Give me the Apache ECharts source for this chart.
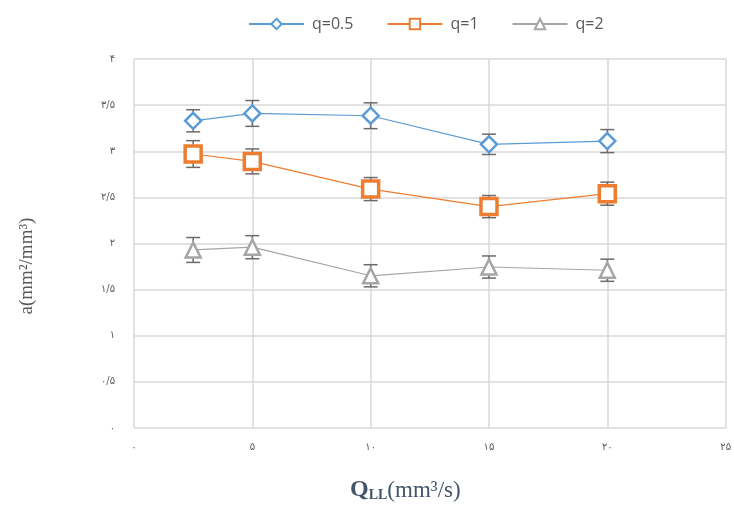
<!DOCTYPE html>
<html>
<head>
<meta charset="utf-8">
<script src="https://cdn.jsdelivr.net/npm/echarts@6/dist/echarts.min.js"></script>
<style>
  html, body { margin: 0; padding: 0; background: #fff; }
  #chart { width: 734px; height: 505px; }
</style>
</head>
<body>
<div id="chart"></div>
<script>
// Liquid flow rate Q_LL (mm^3/s)
const flowRates = [2.5, 5, 10, 15, 20];

// Interfacial area a (mm^2/mm^3) for each q, with error half-widths
const seriesNames = ['q=0.5', 'q=1', 'q=2'];
const areaQ05 = [3.33, 3.41, 3.385, 3.075, 3.11];
const errQ05  = [0.12, 0.14, 0.14, 0.11, 0.125];
const areaQ1  = [2.97, 2.89, 2.59, 2.40, 2.54];
const errQ1   = [0.145, 0.135, 0.125, 0.12, 0.125];
const areaQ2  = [1.93, 1.96, 1.65, 1.745, 1.71];
const errQ2   = [0.135, 0.125, 0.12, 0.12, 0.12];

// Axis tick labels in Persian digits
const xTickLabels = ['۰', '۵', '۱۰', '۱۵', '۲۰', '۲۵'];
const yTickLabels = ['۰', '۰/۵', '۱', '۱/۵', '۲', '۲/۵', '۳', '۳/۵', '۴'];

const colors = ['#5B9BD5', '#ED7D31', '#A5A5A5'];
const symbols = ['diamond', 'rect', 'triangle'];
const symbolSizes = [16, 16, 15];
const borderWidths = [2.5, 3.5, 2.5];
const values = [areaQ05, areaQ1, areaQ2];
const errors = [errQ05, errQ1, errQ2];

const chart = echarts.init(document.getElementById('chart'), null, { renderer: 'canvas' });

const lineSeries = values.map((vals, i) => ({
  name: seriesNames[i],
  type: 'line',
  data: flowRates.map((x, k) => [x, vals[k]]),
  symbol: symbols[i],
  symbolSize: symbolSizes[i],
  showAllSymbol: true,
  z: 5,
  lineStyle: { color: colors[i], width: 1.2 },
  itemStyle: { color: '#fff', borderColor: colors[i], borderWidth: borderWidths[i] },
  emphasis: { disabled: true },
  animation: false
}));

const errorSeries = values.map((vals, i) => ({
  type: 'custom',
  z: 3,
  silent: true,
  animation: false,
  data: flowRates.map((x, k) => [x, vals[k] - errors[i][k], vals[k] + errors[i][k]]),
  renderItem: function (params, api) {
    const lo = api.coord([api.value(0), api.value(1)]);
    const hi = api.coord([api.value(0), api.value(2)]);
    const cap = 7;
    const style = { stroke: '#6b6b6b', lineWidth: 1.5, fill: null };
    return {
      type: 'group',
      children: [
        { type: 'line', shape: { x1: lo[0], y1: lo[1], x2: hi[0], y2: hi[1] }, style: style },
        { type: 'line', shape: { x1: lo[0] - cap, y1: lo[1], x2: lo[0] + cap, y2: lo[1] }, style: style },
        { type: 'line', shape: { x1: hi[0] - cap, y1: hi[1], x2: hi[0] + cap, y2: hi[1] }, style: style }
      ]
    };
  }
}));

const option = {
  backgroundColor: '#fff',
  animation: false,
  color: colors,
  legend: {
    data: seriesNames,
    left: 243,
    top: 11,
    itemWidth: 55,
    itemHeight: 13,
    itemGap: 33,
    textStyle: { color: '#595959', fontSize: 16, fontFamily: 'Open Sans', padding: [0, 0, 0, 3] }
  },
  grid: { left: 134, right: 7, top: 59, bottom: 77, containLabel: false },
  xAxis: {
    type: 'value',
    min: 0, max: 25, interval: 5,
    axisLine: { show: false },
    axisTick: { show: false },
    splitLine: { show: true, lineStyle: { color: '#d9d9d9', width: 1.5 } },
    axisLabel: {
      color: '#595959', fontSize: 10, fontFamily: 'DejaVu Sans', margin: 14,
      formatter: (v) => xTickLabels[Math.round(v / 5)]
    }
  },
  yAxis: {
    type: 'value',
    min: 0, max: 4, interval: 0.5,
    axisLine: { show: false },
    axisTick: { show: false },
    splitLine: { show: true, lineStyle: { color: '#d9d9d9', width: 1.5 } },
    axisLabel: {
      color: '#595959', fontSize: 10, fontFamily: 'DejaVu Sans', margin: 19,
      formatter: (v) => yTickLabels[Math.round(v / 0.5)]
    }
  },
  graphic: [
    {
      type: 'text',
      left: 350,
      top: 478,
      style: {
        text: '{q|Q}{s|LL}{r|(mm³/s)}',
        fill: '#44546A',
        rich: {
          q: { fontFamily: 'Liberation Serif', fontWeight: 'bold', fontSize: 24, fill: '#44546A', lineHeight: 28, verticalAlign: 'bottom' },
          s: { fontFamily: 'Liberation Serif', fontWeight: 'bold', fontSize: 14, fill: '#44546A', lineHeight: 28, verticalAlign: 'bottom' },
          r: { fontFamily: 'Liberation Serif', fontSize: 23, fill: '#44546A', lineHeight: 28, verticalAlign: 'bottom' }
        }
      }
    },
    {
      type: 'text',
      x: 27,
      y: 266,
      rotation: Math.PI / 2,
      style: {
        text: 'a(mm²/mm³)',
        fill: '#595959',
        fontFamily: 'Liberation Serif',
        fontSize: 19,
        align: 'center',
        verticalAlign: 'middle'
      }
    }
  ],
  series: [...errorSeries, ...lineSeries]
};

chart.setOption(option);
</script>
</body>
</html>
